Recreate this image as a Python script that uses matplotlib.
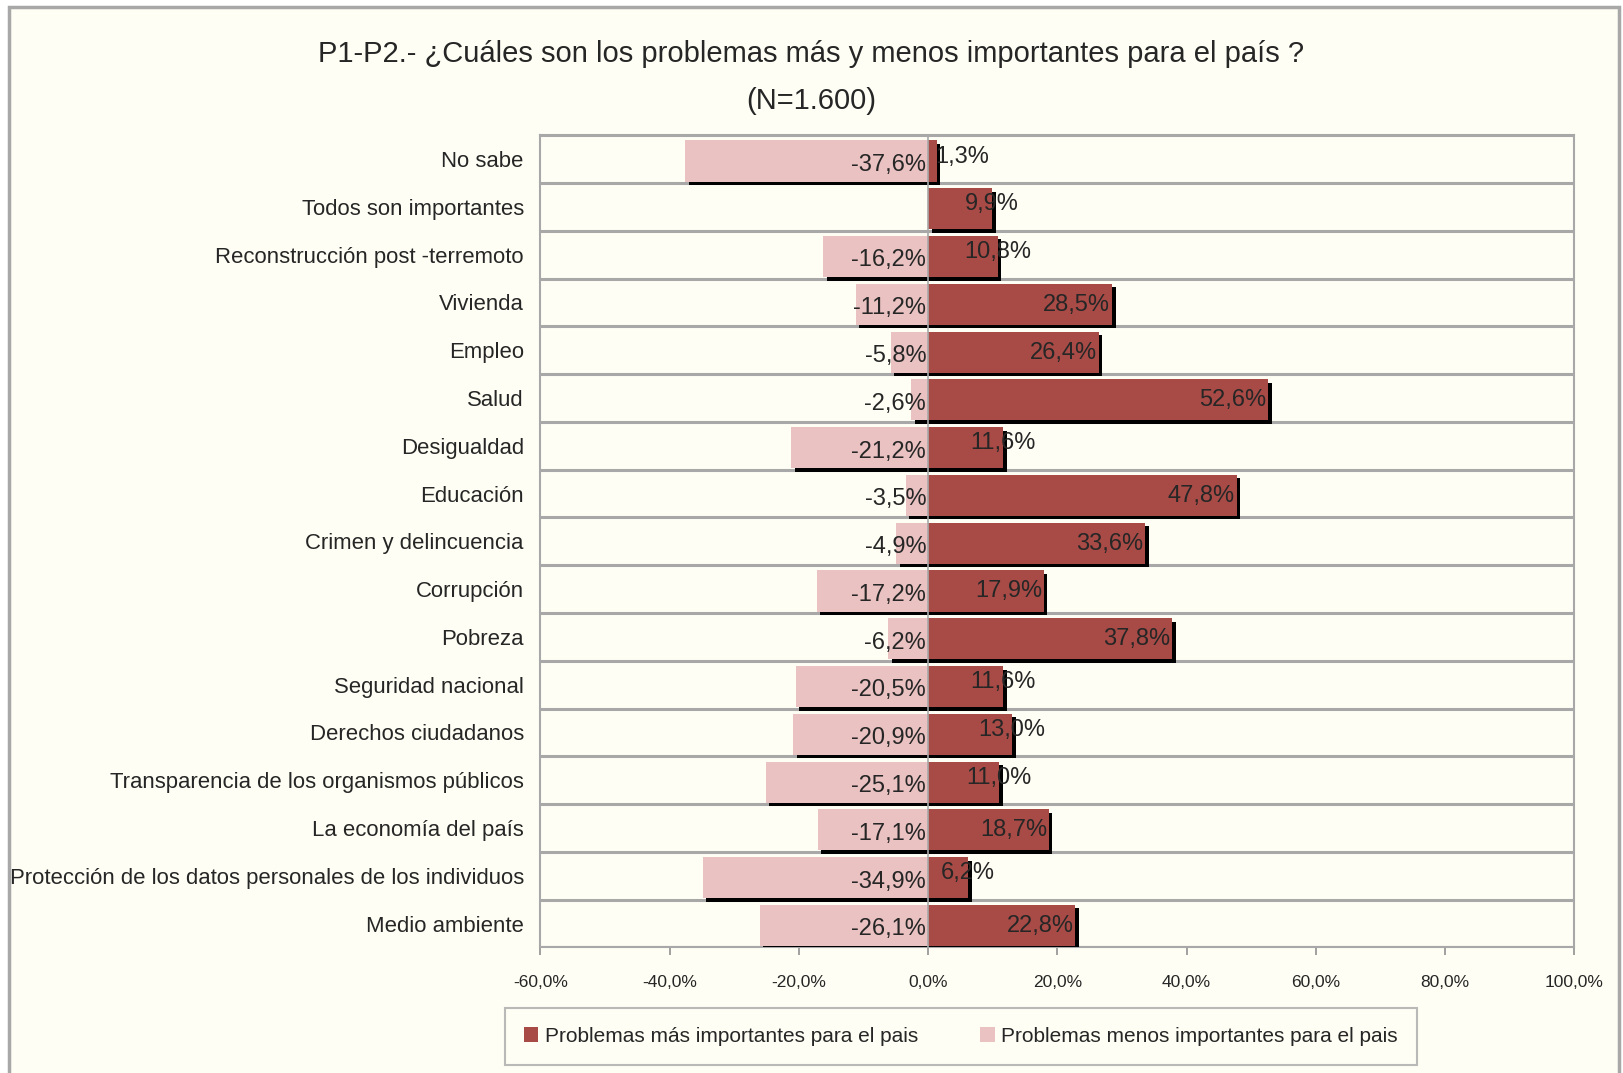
import matplotlib
matplotlib.use("Agg")
import matplotlib.pyplot as plt
import matplotlib.patheffects as pe
from matplotlib.patches import Rectangle, Patch
import numpy as np

# Datos
categorias = ["No sabe", "Todos son importantes", "Reconstrucción post -terremoto",
              "Vivienda", "Empleo", "Salud", "Desigualdad", "Educación",
              "Crimen y delincuencia", "Corrupción", "Pobreza", "Seguridad nacional",
              "Derechos ciudadanos", "Transparencia de los organismos públicos",
              "La economía del país", "Protección de los datos personales de los individuos",
              "Medio ambiente"]
mas_importantes = [1.3, 9.9, 10.8, 28.5, 26.4, 52.6, 11.6, 47.8, 33.6, 17.9, 37.8,
                   11.6, 13.0, 11.0, 18.7, 6.2, 22.8]
menos_importantes = [-37.6, None, -16.2, -11.2, -5.8, -2.6, -21.2, -3.5, -4.9, -17.2,
                     -6.2, -20.5, -20.9, -25.1, -17.1, -34.9, -26.1]
ticks = [-60, -40, -20, 0, 20, 40, 60, 80, 100]

plt.rcParams["font.family"] = ["Liberation Sans", "DejaVu Sans"]

ROJO = "#A84B46"
ROSA = "#E9C2C1"
FONDO = "#FEFEF4"
TXT = "#262626"

fig = plt.figure(figsize=(16.23, 10.73), dpi=100, facecolor="white")
fig.patches.append(Rectangle((0.0055, -0.02), 0.992, 1.0135, transform=fig.transFigure,
                             facecolor=FONDO, edgecolor="#A8A8A8", lw=2.5, zorder=-1))
ax = fig.add_axes([0.333, 0.117, 0.637, 0.757])
ax.set_facecolor(FONDO)

y = np.arange(len(categorias))
sombra = [pe.SimplePatchShadow(offset=(2.5, -2.5), shadow_rgbFace="black", alpha=1.0), pe.Normal()]

neg = [v if v is not None else 0 for v in menos_importantes]
b1 = ax.barh(y + 0.04, neg, height=0.86, color=ROSA, zorder=3)
b2 = ax.barh(y + 0.04, mas_importantes, height=0.86, color=ROJO, zorder=3)
for b in list(b1) + list(b2):
    if b.get_width() != 0:
        b.set_path_effects(sombra)

def fmt(v):
    return f"{v:.1f}%".replace(".", ",")

for i, v in enumerate(menos_importantes):
    if v is None:
        continue
    ax.text(-0.3, i + 0.12, fmt(v), ha="right", va="center", fontsize=17,
            color=TXT, zorder=5)
for i, v in enumerate(mas_importantes):
    if v >= 17:
        ax.text(v - 0.3, i + 0.05, fmt(v), ha="right", va="center", fontsize=17,
                color=TXT, zorder=5)
    else:
        ax.text(max(v, 5.2), i - 0.05, fmt(v), ha="center", va="center", fontsize=17,
                color=TXT, zorder=5)

ax.set_xlim(-60, 100)
ax.set_ylim(len(categorias) - 0.5, -0.5)
ax.set_yticks(y)
ax.set_yticklabels(categorias, fontsize=15.9, color=TXT)
ax.tick_params(axis="y", length=0, pad=12)
ax.set_xticks(ticks)
ax.set_xticklabels([fmt(t) for t in ticks], fontsize=12.5, color=TXT)
ax.tick_params(axis="x", length=6, width=1.2, color="#909090", pad=14)

for k in range(len(categorias) + 1):
    ax.axhline(k - 0.5, color="#A8A8A8", lw=2.2, zorder=2)
ax.axvline(0, color="#A8A8A8", lw=1.2, zorder=4)
for s in ax.spines.values():
    s.set_color("#A8A8A8")
    s.set_linewidth(1.5)

fig.text(0.5, 0.950, "P1-P2.- ¿Cuáles son los problemas más y menos importantes para el país ?",
         ha="center", va="center", fontsize=21, color=TXT)
fig.text(0.5, 0.906, "(N=1.600)", ha="center", va="center", fontsize=21, color=TXT)

handles = [Patch(facecolor=ROJO), Patch(facecolor=ROSA)]
leg = fig.legend(handles, ["Problemas más importantes para el pais",
                           "Problemas menos importantes para el pais"],
                 loc="center", bbox_to_anchor=(0.592, 0.034), ncol=2, fontsize=15,
                 frameon=True, fancybox=False, edgecolor="#A8A8A8", facecolor=FONDO,
                 handlelength=0.7, handleheight=0.7, handletextpad=0.3, columnspacing=3.0,
                 borderpad=0.9, borderaxespad=0)
leg.get_frame().set_linewidth(1.5)
for t in leg.get_texts():
    t.set_color(TXT)

fig.savefig("out.png", dpi=100, facecolor=fig.get_facecolor())
